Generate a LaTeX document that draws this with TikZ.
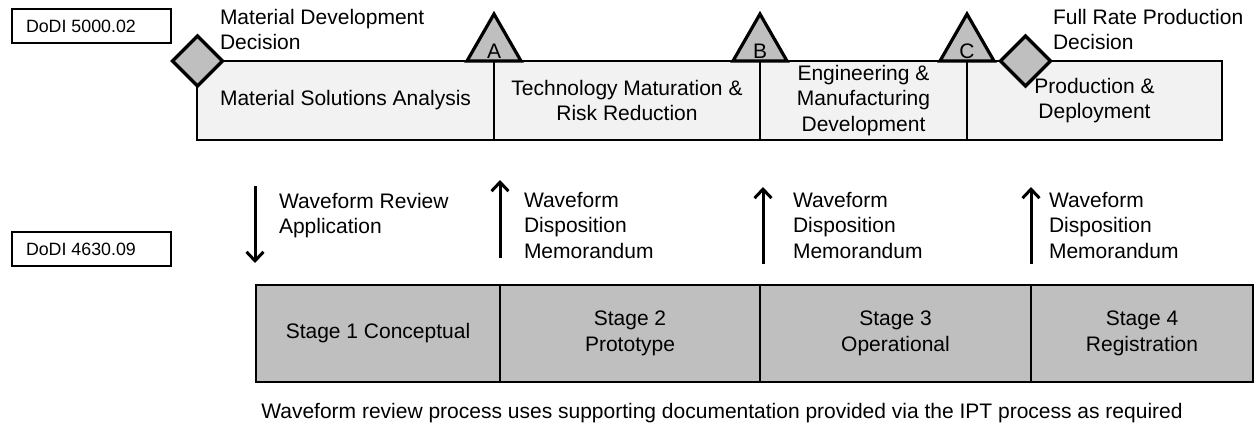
\documentclass[tikz,border=0pt]{standalone}
\usepackage{fontspec}
\setmainfont{Liberation Sans}
\usetikzlibrary{shapes.geometric,arrows.meta}
\definecolor{barfill}{HTML}{F2F2F2}
\definecolor{stagefill}{HTML}{BFBFBF}
\definecolor{markfill}{HTML}{BFBFBF}
\begin{document}
\begin{tikzpicture}[x=1pt,y=-1pt,
  every node/.style={inner sep=0pt, outer sep=0pt},
  bigfont/.style={font=\fontsize{21}{25.5}\selectfont},
  lbl/.style={bigfont, align=left, anchor=north west},
  refbox/.style={draw=black, line width=1.5pt, minimum width=159pt, minimum height=34pt, anchor=north west},
  reftext/.style={font=\fontsize{17.8}{21}\selectfont, anchor=west},
  phase/.style={draw=black, line width=2pt, fill=barfill, minimum height=79pt, align=center, bigfont},
  stagebox/.style={draw=black, line width=2pt, fill=stagefill, minimum height=97pt, align=center, bigfont},
  tri/.style={draw=black, line width=3.2pt, fill=markfill, line join=miter},
  decision/.style={diamond, draw=black, line width=3.2pt, fill=markfill, minimum width=50pt, minimum height=50pt},
  arr/.style={line width=3pt, -{Straight Barb[length=9pt,width=17pt]}}
]
\useasboundingbox (0,0) rectangle (1254,423);

% reference boxes
\node[refbox] (r1) at (12,9) {};
\node[reftext] (r1t) at (26,26) {DoDI 5000.02};
\node[refbox] (r2) at (12,232) {};
\node[reftext] (r2t) at (26,249.5) {DoDI 4630.09};

% acquisition phases
\node[phase, minimum width=297pt] (msa) at (345.5,100.5) {Material Solutions Analysis};
\node[phase, minimum width=266pt] (tmrr) at (627,100.5) {Technology Maturation \&\\Risk Reduction};
\node[phase, minimum width=207pt] (emd) at (863.5,100.5) {Engineering \&\\Manufacturing\\Development};
\node[phase, minimum width=255pt] (pd) at (1094.5,100.5) {Production \&\\Deployment};

% milestones
\draw[tri] (467,61) -- (494,14) -- (521,61) -- cycle;
\node[bigfont] (mA) at (494,51) {A};
\draw[tri] (733,61) -- (760,14) -- (787,61) -- cycle;
\node[bigfont] (mB) at (760,51) {B};
\draw[tri] (940,61) -- (967,14) -- (994,61) -- cycle;
\node[bigfont] (mC) at (967,51) {C};

% decisions
\node[decision] (mdd) at (197.5,61) {};
\node[decision] (frp) at (1025.5,61) {};
\node[lbl] (mddt) at (220,9) {Material Development\\Decision};
\node[lbl] (frpt) at (1053,9) {Full Rate Production\\Decision};

% stages
\node[stagebox, minimum width=244pt] (s1) at (378,333.5) {Stage 1 Conceptual};
\node[stagebox, minimum width=260pt] (s2) at (630,333.5) {Stage 2\\Prototype};
\node[stagebox, minimum width=271pt] (s3) at (895.5,333.5) {Stage 3\\Operational};
\node[stagebox, minimum width=222pt] (s4) at (1142,333.5) {Stage 4\\Registration};

% arrows
\coordinate (a1s) at (255,186);
\coordinate (a1e) at (255,263);
\draw[arr] (a1s) -- (a1e);
\node[lbl] (a1t) at (279,193) {Waveform Review\\Application};

\coordinate (a2s) at (500,258);
\coordinate (a2e) at (500,180);
\draw[arr] (a2s) -- (a2e);
\node[lbl] (a2t) at (524,192) {Waveform\\Disposition\\Memorandum};

\coordinate (a3s) at (763,264);
\coordinate (a3e) at (763,187);
\draw[arr] (a3s) -- (a3e);
\node[lbl] (a3t) at (793,192) {Waveform\\Disposition\\Memorandum};

\coordinate (a4s) at (1031,264);
\coordinate (a4e) at (1031,187);
\draw[arr] (a4s) -- (a4e);
\node[lbl] (a4t) at (1049,192) {Waveform\\Disposition\\Memorandum};

% footnote
\node[bigfont, anchor=base] (note) at (722,418) {Waveform review process uses supporting documentation provided via the IPT process as required};
\end{tikzpicture}
\end{document}
